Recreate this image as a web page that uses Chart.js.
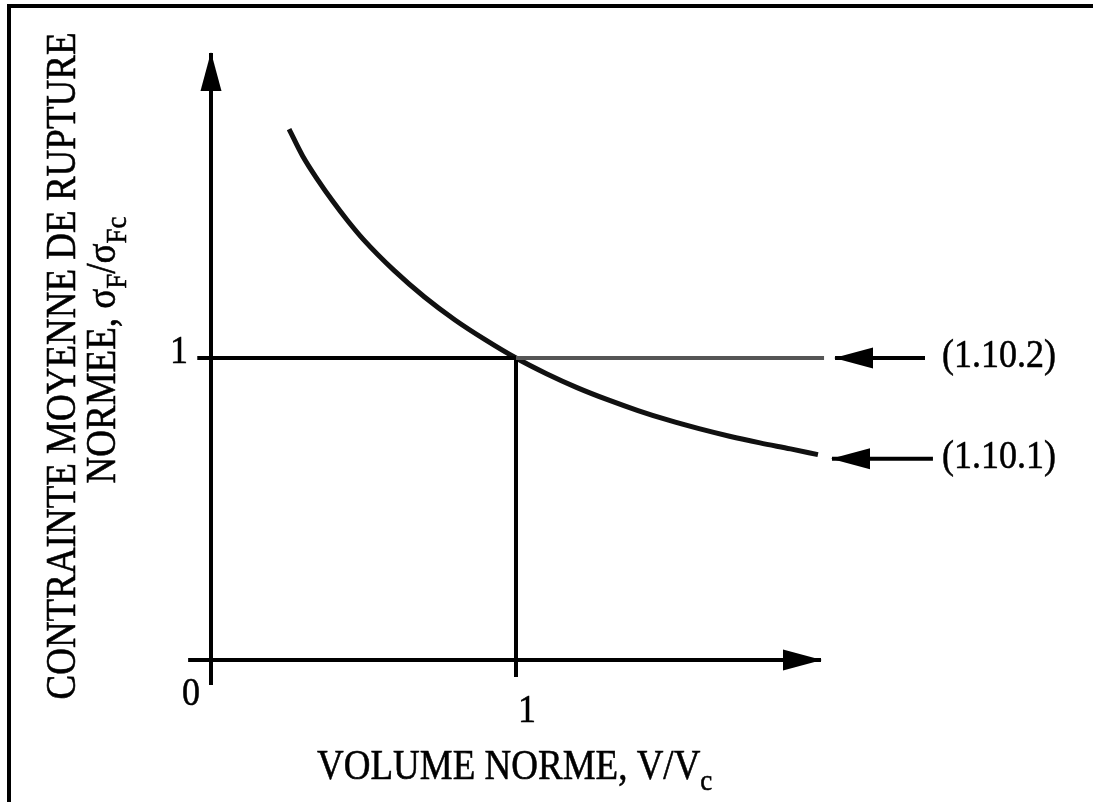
<!DOCTYPE html>
<html>
<head>
<meta charset="utf-8">
<script src="https://cdn.jsdelivr.net/npm/chart.js@4"></script>
<style>
  html, body { margin: 0; padding: 0; background: #fff; }
  #wrap { width: 1093px; height: 802px; position: relative; }
</style>
</head>
<body>
<div id="wrap"><canvas id="myChart"></canvas></div>
<script>
// curve (normalised volume -> normalised mean failure stress)
const curveX = [0.256, 0.30, 0.35, 0.40, 0.45, 0.50, 0.60, 0.70, 0.80, 0.90, 1.00, 1.10, 1.20, 1.30, 1.40, 1.50, 1.60, 1.70, 1.80, 1.90, 1.99];
const curveY = [1.758, 1.670, 1.590, 1.518, 1.452, 1.392, 1.290, 1.202, 1.126, 1.060, 1.000, 0.948, 0.902, 0.862, 0.826, 0.794, 0.766, 0.741, 0.719, 0.699, 0.680];

// reference level / volume (the "1" on each axis)
const refVolume = 1;
const refStress = 1;

// axis extents
const xAxisRange = [-0.075, 2.0];
const yAxisRange = [-0.083, 2.01];
const lineEnd = 2.01;

// tick labels
const xTickValues = [1];
const xTickLabels = ['1'];
const yTickValues = [1];
const yTickLabels = ['1'];
const originLabel = '0';

// equation call-outs
const eqLabels = ['(1.10.2)', '(1.10.1)'];
const eqLevels = [1.0, 0.666];
const eqArrowTip = [2.046, 2.036];
const eqArrowTail = [2.341, 2.367];
const eqTextX = 2.397;

const xTitle = [['VOLUME NORME, V/V'], ['c', 'sub']];
const yTitle1 = [['CONTRAINTE MOYENNE DE RUPTURE']];
const yTitle2 = [['NORMEE, σ'], ['F', 'sub'], ['/σ'], ['Fc', 'sub']];

const serif = '"Liberation Serif", "Times New Roman", serif';

function drawRuns(ctx, runs, x, y, size, align) {
  const main = size + 'px ' + serif;
  const small = Math.round(size * 0.72) + 'px ' + serif;
  let total = 0;
  runs.forEach(r => { ctx.font = r[1] ? small : main; total += ctx.measureText(r[0]).width; });
  let cx = align === 'center' ? -total / 2 : (align === 'right' ? -total : 0);
  ctx.save();
  ctx.translate(x, y);
  ctx.scale(1, 1.12);
  ctx.textAlign = 'left';
  ctx.textBaseline = 'alphabetic';
  ctx.lineWidth = 0.5;
  ctx.strokeStyle = '#000';
  runs.forEach(r => {
    ctx.font = r[1] ? small : main;
    const ty = r[1] ? size * 0.26 : 0;
    ctx.fillText(r[0], cx, ty);
    ctx.strokeText(r[0], cx, ty);
    cx += ctx.measureText(r[0]).width;
  });
  ctx.restore();
}

const decor = {
  id: 'decor',
  beforeDatasetsDraw(chart) {
    const ctx = chart.ctx;
    ctx.save();
    ctx.strokeStyle = '#000';
    ctx.lineWidth = 4;
    ctx.beginPath();
    ctx.moveTo(9, chart.height);
    ctx.lineTo(9, 6);
    ctx.lineTo(chart.width, 6);
    ctx.stroke();
    ctx.restore();
  },
  afterDatasetsDraw(chart) {
    const ctx = chart.ctx;
    const xs = chart.scales.x, ys = chart.scales.y;
    ctx.save();
    ctx.fillStyle = '#000';
    // arrowheads at the last point of flagged datasets
    chart.data.datasets.forEach(ds => {
      if (!ds.arrowHead) return;
      const n = ds.data.length;
      const a = ds.data[n - 2], b = ds.data[n - 1];
      const ax = xs.getPixelForValue(a.x), ay = ys.getPixelForValue(a.y);
      const bx = xs.getPixelForValue(b.x), by = ys.getPixelForValue(b.y);
      const ang = Math.atan2(by - ay, bx - ax);
      const len = 38, half = 10.5;
      ctx.save();
      ctx.translate(bx, by);
      ctx.rotate(ang);
      ctx.beginPath();
      ctx.moveTo(1, 0);
      ctx.lineTo(-len, -half);
      ctx.lineTo(-len, half);
      ctx.closePath();
      ctx.fill();
      ctx.restore();
    });

    // tick labels
    const fs = 36;
    xTickValues.forEach((v, i) => {
      drawRuns(ctx, [[xTickLabels[i]]], xs.getPixelForValue(v) + 11, ys.getPixelForValue(0) + 62, fs, 'center');
    });
    yTickValues.forEach((v, i) => {
      drawRuns(ctx, [[yTickLabels[i]]], xs.getPixelForValue(0) - 23, ys.getPixelForValue(v) + 5, fs, 'right');
    });
    drawRuns(ctx, [[originLabel]], xs.getPixelForValue(0) - 20, ys.getPixelForValue(0) + 45, fs, 'center');

    // equation labels
    eqLabels.forEach((t, i) => {
      drawRuns(ctx, [[t]], xs.getPixelForValue(eqTextX), ys.getPixelForValue(eqLevels[i]) + 9, fs, 'left');
    });

    // axis titles
    drawRuns(ctx, xTitle, 317, 779, 37, 'left');
    ctx.save();
    ctx.translate(75, 366);
    ctx.rotate(-Math.PI / 2);
    drawRuns(ctx, yTitle1, 0, 0, 37, 'center');
    ctx.restore();
    ctx.save();
    ctx.translate(115, 350);
    ctx.rotate(-Math.PI / 2);
    drawRuns(ctx, yTitle2, 0, 0, 37, 'center');
    ctx.restore();
    ctx.restore();
  }
};

const ctx = document.getElementById('myChart').getContext('2d');

const curve = curveX.map((x, i) => ({x: x, y: curveY[i]}));

const myChart = new Chart(ctx, {
  type: 'scatter',
  data: {
    datasets: [
      { // x axis
        data: [{x: xAxisRange[0], y: 0}, {x: xAxisRange[1], y: 0}],
        showLine: true, borderColor: '#000', borderWidth: 4, pointRadius: 0, arrowHead: true
      },
      { // y axis
        data: [{x: 0, y: yAxisRange[0]}, {x: 0, y: yAxisRange[1]}],
        showLine: true, borderColor: '#000', borderWidth: 4, pointRadius: 0, arrowHead: true
      },
      { // reference level, left part
        data: [{x: -0.045, y: refStress}, {x: refVolume, y: refStress}],
        showLine: true, borderColor: '#000', borderWidth: 4, pointRadius: 0
      },
      { // reference level, right part (1.10.2)
        data: [{x: refVolume, y: refStress}, {x: lineEnd, y: refStress}],
        showLine: true, borderColor: '#555', borderWidth: 4, pointRadius: 0
      },
      { // reference volume
        data: [{x: refVolume, y: -0.056}, {x: refVolume, y: refStress}],
        showLine: true, borderColor: '#000', borderWidth: 4, pointRadius: 0
      },
      { // curve (1.10.1)
        data: curve,
        showLine: true, borderColor: '#111', borderWidth: 5, pointRadius: 0,
        cubicInterpolationMode: 'monotone'
      },
      ...eqLabels.map((t, i) => ({
        data: [{x: eqArrowTail[i], y: eqLevels[i]}, {x: eqArrowTip[i], y: eqLevels[i]}],
        showLine: true, borderColor: '#000', borderWidth: 4, pointRadius: 0, arrowHead: true
      }))
    ]
  },
  options: {
    responsive: true,
    maintainAspectRatio: false,
    animation: false,
    layout: { padding: 0 },
    plugins: { legend: { display: false }, tooltip: { enabled: false } },
    scales: {
      x: { type: 'linear', display: false, min: -0.6918, max: 2.8918 },
      y: { type: 'linear', display: false, min: -0.4702, max: 2.1854 }
    }
  },
  plugins: [decor]
});
</script>
</body>
</html>
